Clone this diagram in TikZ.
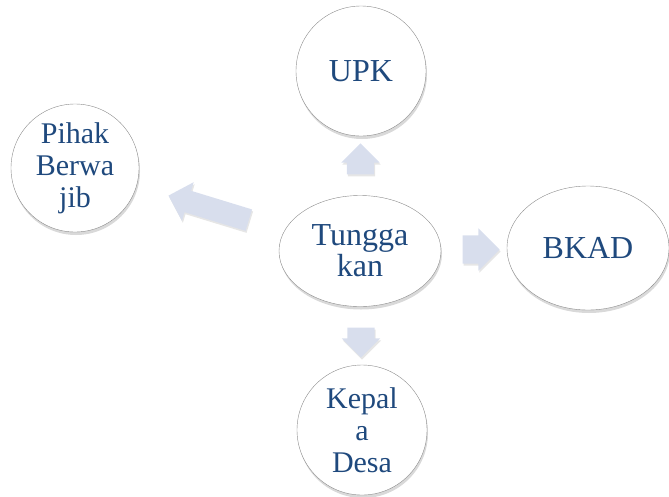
\documentclass[tikz,border=0pt]{standalone}
\usepackage{fontspec}
\setmainfont{Liberation Serif}
\usetikzlibrary{shapes.geometric,shapes.arrows,shadows,calc}
\definecolor{txtblue}{RGB}{31,73,125}
\definecolor{arrfill}{RGB}{216,222,237}

\begin{document}
\begin{tikzpicture}
[
x = 1pt, y = -1pt,
bubble/.style = {draw = gray!90, fill = white, text = txtblue, align = center, inner sep = 0pt,
  font = \fontsize{30}{32}\selectfont,
  drop shadow = {opacity = 0.3, shadow xshift = 1pt, shadow yshift = -3pt}},
blockarrow/.style = {single arrow, fill = arrfill, inner xsep = 0pt, inner ysep = 13.5pt,
  single arrow head extend = 5.5pt,
  drop shadow = {opacity = 0.2, shadow xshift = 1pt, shadow yshift = -2pt}},
]

\useasboundingbox (0,0) rectangle (669,496);

\node (T) at (360,251) [bubble, ellipse, minimum width = 162pt, minimum height = 111pt,
  font = \fontsize{32}{31}\selectfont] {Tungga\\kan};

\node (U) at (361,71) [bubble, circle, minimum size = 130pt, font = \fontsize{32}{34}\selectfont] {UPK};

\node (P) at (75,168) [bubble, circle, minimum size = 128pt] {Pihak\\Berwa\\jib};

\node (B) at (588,248) [bubble, ellipse, minimum width = 162pt, minimum height = 124pt,
  font = \fontsize{32}{34}\selectfont] {BKAD};

\node (K) at (362,430) [bubble, circle, minimum size = 130pt] {Kepal\\a\\Desa};

% block arrows between the bubbles
\node (aU) at ($(T.north)!0.5!(U.south)$) [blockarrow, rotate = 90, minimum height = 31pt] {};
\node (aK) at ($(T.south)!0.5!(K.north)$) [blockarrow, rotate = -90, minimum height = 30pt] {};
\node (aB) at ($(T.east)!0.5!(B.west)$) [blockarrow, minimum height = 37pt, inner ysep = 14pt,
  single arrow head extend = 7pt] {};
\node (aP) at ($(T.west)!0.5!(P.east) + (5,0)$) [blockarrow, rotate = 163, minimum height = 84pt,
  inner ysep = 11pt, single arrow head extend = 9pt] {};
\end{tikzpicture}
\end{document}
